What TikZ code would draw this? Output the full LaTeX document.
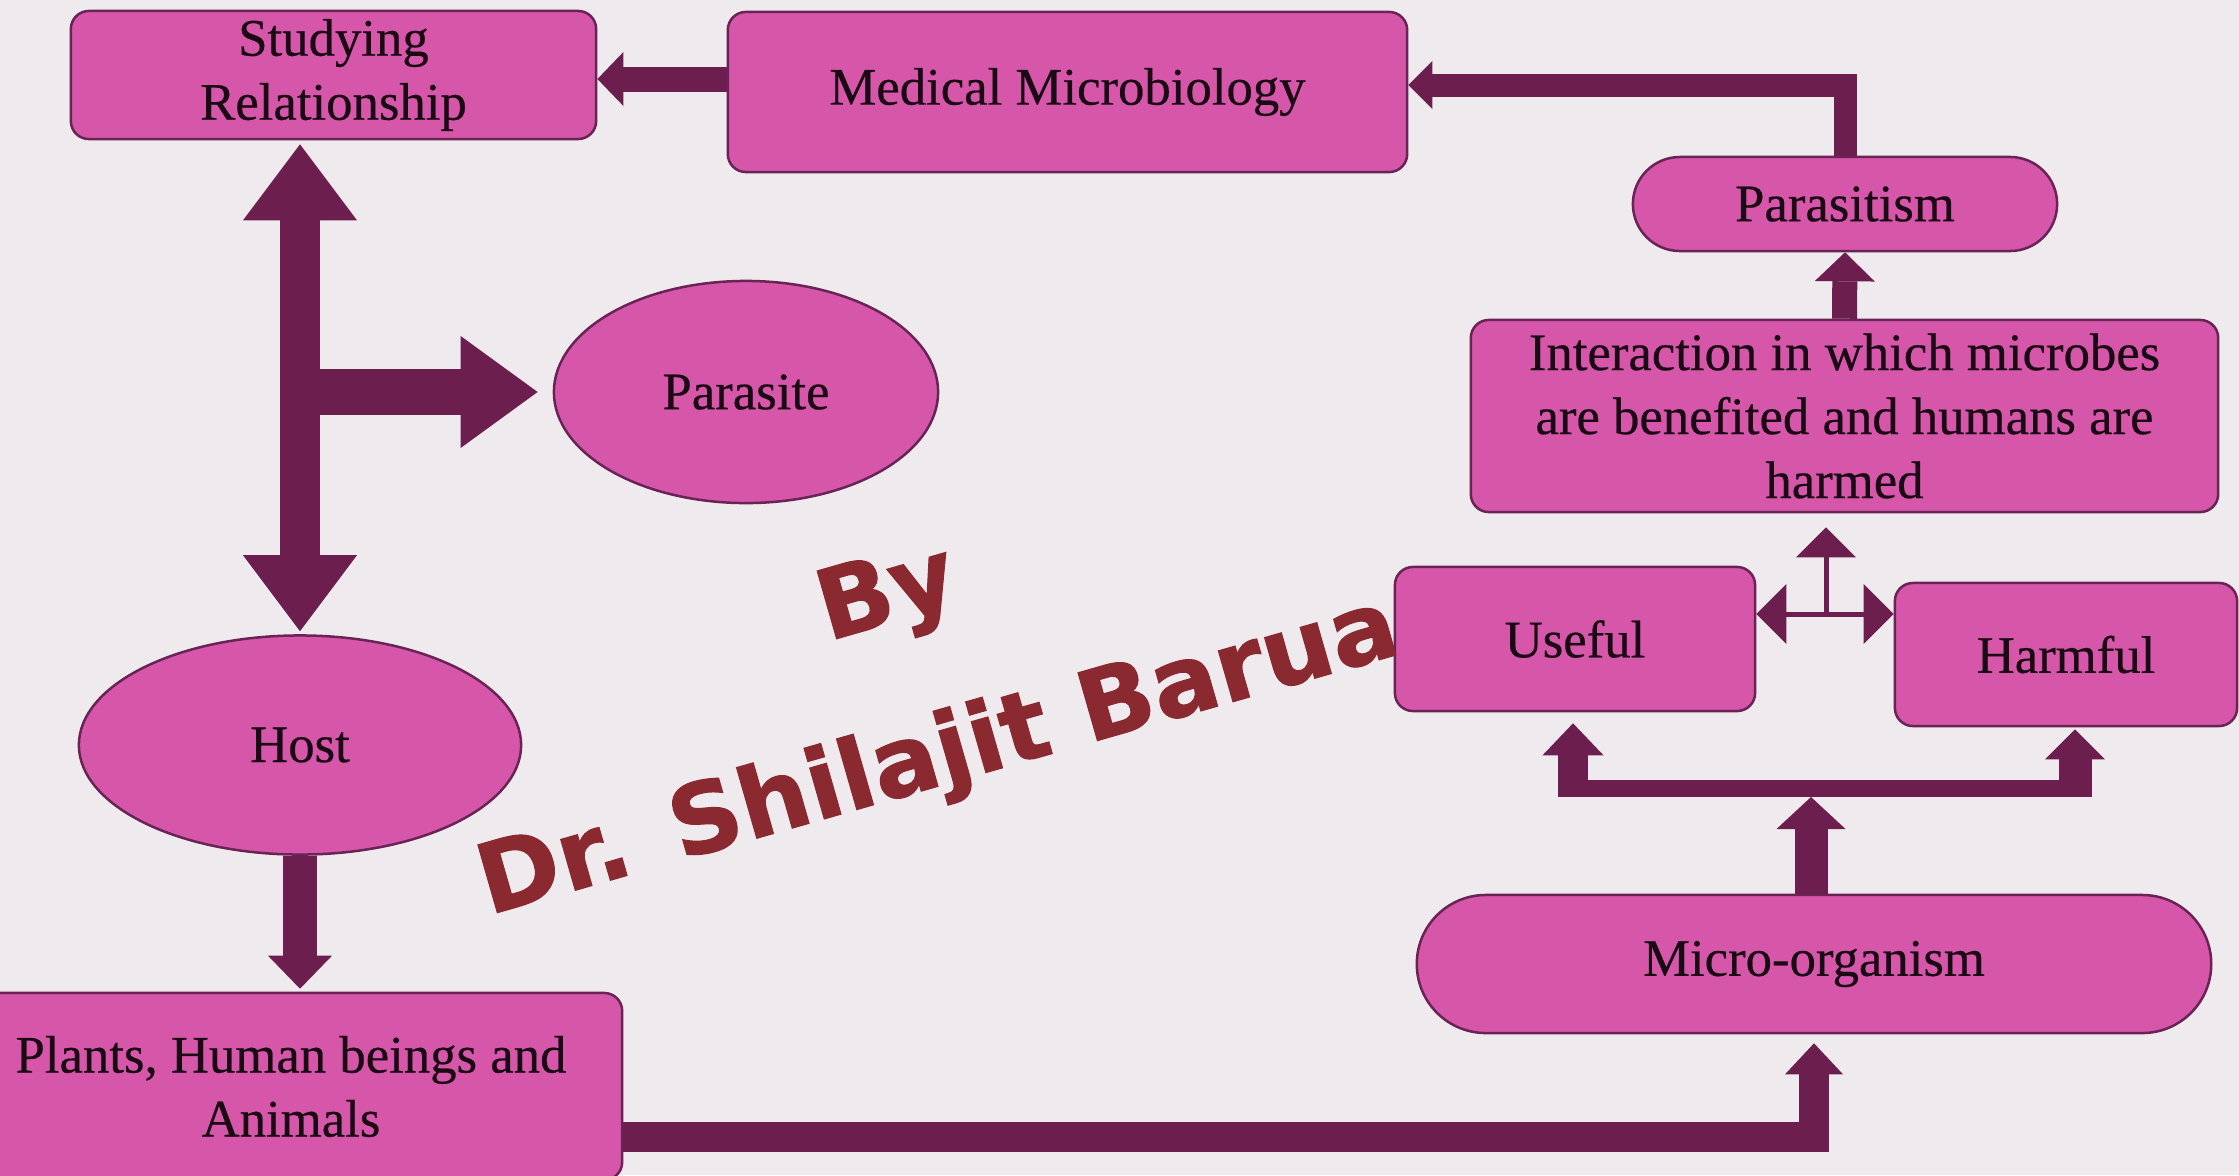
\documentclass[tikz,border=0pt]{standalone}
\usepackage{fontspec}
\setmainfont{Liberation Serif}
\newfontfamily\labelfont[FakeBold=0.4]{Liberation Serif}
\newfontfamily\wmfont[FakeStretch=1.02,FakeBold=1.2]{DejaVu Sans}
\usetikzlibrary{arrows.meta,shapes.geometric,calc}
\definecolor{bg}{RGB}{238,234,237}
\definecolor{boxfill}{RGB}{214,86,170}
\definecolor{boxline}{RGB}{105,35,85}
\definecolor{arr}{RGB}{108,30,78}
\definecolor{txt}{RGB}{25,10,20}
\definecolor{wmcol}{RGB}{138,42,48}
\begin{document}
\begin{tikzpicture}[x=0.01cm, y=-0.01cm,
  box/.style={draw=boxline, fill=boxfill, line width=0.025cm, rounded corners=0.18cm, inner sep=0pt, align=center, text=txt, font=\labelfont\fontsize{15pt}{18.2pt}\selectfont},
  oval/.style={draw=boxline, fill=boxfill, line width=0.025cm, ellipse, inner sep=0pt, align=center, text=txt, font=\labelfont\fontsize{15pt}{18.2pt}\selectfont},
  blk/.style n args={3}{draw=arr, line width=#1, -{Triangle[length=#2, width=#3, line width=0pt]}},
  dblk/.style n args={3}{draw=arr, line width=#1, {Triangle[length=#2, width=#3, line width=0pt]}-{Triangle[length=#2, width=#3, line width=0pt]}},
  thinarrow/.style={draw=arr, line width=0.05cm, -{Triangle[length=0.30cm, width=0.60cm, line width=0pt]}},
  barline/.style={draw=arr, line width=0.17cm},
  wmstyle/.style={font=\wmfont\bfseries\fontsize{27.5pt}{32pt}\selectfont, rotate=16, anchor=base, inner sep=0pt, text=wmcol}
]
\useasboundingbox (0,0) rectangle (2239,1175);
\fill[bg] (0,0) rectangle (2239,1175);

% nodes
\node[box, minimum width=5.25cm, minimum height=1.28cm] (stud) at (333.5,75) {Studying\\Relationship};
\node[box, minimum width=6.79cm, minimum height=1.60cm] (med) at (1067.5,92) {Medical Microbiology};
\node[box, rounded corners=0.47cm, minimum width=4.24cm, minimum height=0.94cm] (par) at (1845,204) {Parasitism};
\node[box, minimum width=7.47cm, minimum height=1.92cm] (inter) at (1844.5,416) {Interaction in which microbes\\are benefited and humans are\\harmed};
\node[box, minimum width=3.60cm, minimum height=1.44cm] (useful) at (1575,639) {Useful};
\node[box, minimum width=3.42cm, minimum height=1.43cm] (harm) at (2066,654.5) {Harmful};
\node[box, rounded corners=0.69cm, minimum width=7.94cm, minimum height=1.38cm] (micro) at (1814,964) {Micro-organism};
\node[oval, minimum width=3.84cm, minimum height=2.22cm] (parasite) at (746,392) {Parasite};
\node[oval, minimum width=4.42cm, minimum height=2.19cm] (host) at (300,745) {Host};
\node[box, minimum width=6.62cm, minimum height=1.87cm] (plants) at (291,1086.5) {Plants, Human beings and\\Animals};

% connectors
\draw[blk={0.25cm}{0.26cm}{0.54cm}] ($(med.west)+(0,-13)$) -- ($(stud.east)+(0,4)$);
\draw[blk={0.23cm}{0.24cm}{0.48cm}] (par.north) |- ($(med.east)+(0,-7)$);
\draw[blk={0.25cm}{0.29cm}{0.60cm}] (inter.north) -- (par.south);

\coordinate (j) at (1826,614);
\draw[thinarrow] (j) -- (j -| useful.east);
\draw[thinarrow] (j) -- (j -| harm.west);
\draw[thinarrow, shorten >=0.14cm] (j) -- (j |- inter.south);

\coordinate (fl) at (1573,788);
\coordinate (fr) at (2075,788);
\coordinate (fm) at (1811,797);
\draw[barline] ([xshift=-0.15cm]fl) -- ([xshift=0.17cm]fr);
\draw[blk={0.30cm}{0.32cm}{0.61cm}, shorten >=0.11cm] ([yshift=-0.085cm]fl) -- (fl |- useful.south);
\draw[blk={0.33cm}{0.30cm}{0.60cm}, shorten >=0.02cm] ([yshift=-0.085cm]fr) -- (fr |- harm.south);
\draw[blk={0.33cm}{0.32cm}{0.69cm}] (micro.north -| fm) -- (fm);

\draw[blk={0.30cm}{0.31cm}{0.58cm}, shorten >=0.09cm] ($(plants.east)+(0,50.5)$) -| (micro.south);
\draw[blk={0.33cm}{0.33cm}{0.64cm}, shorten >=0.03cm] (host.south) -- (host.south |- plants.north);

\draw[dblk={0.40cm}{0.76cm}{1.14cm}, shorten <=0.04cm, shorten >=0.03cm] (stud.south -| host.north) -- (host.north);
\draw[blk={0.45cm}{0.77cm}{1.12cm}, shorten >=0.15cm] (host.north |- parasite.west) -- (parasite.west);

% watermark
\node[wmstyle] (by) at (895,622) {By};
\node[wmstyle] (author) at (946,784) {Dr. Shilajit Barua};
\end{tikzpicture}
\end{document}
